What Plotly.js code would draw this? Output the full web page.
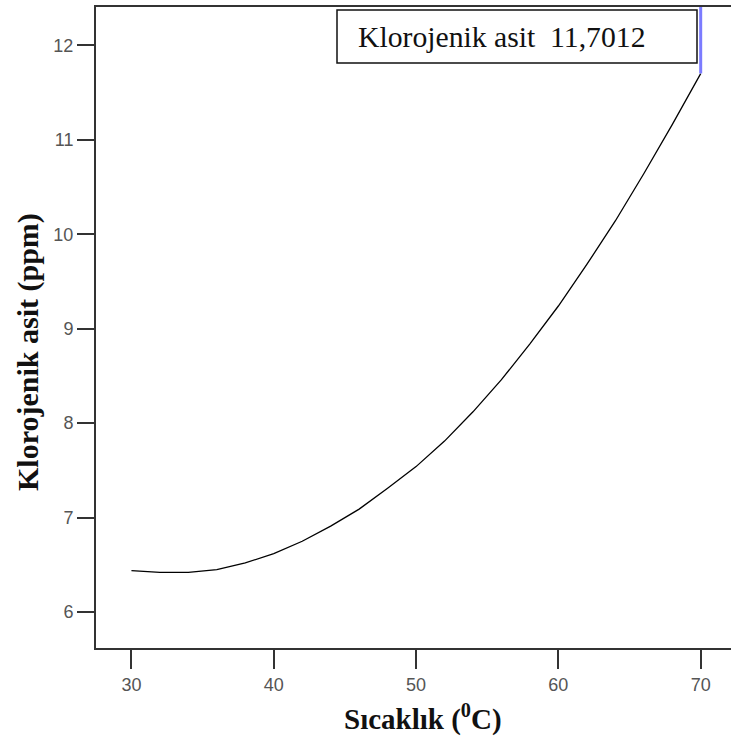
<!DOCTYPE html>
<html>
<head>
<meta charset="utf-8">
<script src="https://cdn.plot.ly/plotly-3.0.1.min.js"></script>
<style>html,body{margin:0;padding:0;background:#fff;}#chart{width:731px;height:737px;}</style>
</head>
<body>
<div id="chart"></div>
<script>
// Temperature (°C) and chlorogenic acid (ppm)
const temperature = [30, 32, 34, 36, 38, 40, 42, 44, 46, 48, 50, 52, 54, 56, 58, 60, 62, 64, 66, 68, 70];
const chlorogenic = [6.44, 6.42, 6.42, 6.45, 6.52, 6.62, 6.75, 6.91, 7.09, 7.31, 7.54, 7.81, 8.12, 8.46, 8.84, 9.24, 9.68, 10.14, 10.64, 11.16, 11.70];
const optimumT = 70;
const optimumValue = 11.7012;
const xTicks = [30, 40, 50, 60, 70];
const yTicks = [6, 7, 8, 9, 10, 11, 12];
const xRange = [27.51, 72.13];
const yRange = [5.62, 12.405];

const W = 731, H = 737, L = 96, T = 7, B = 89;
const PW = W - L, PH = H - T - B;
const px = v => (v - L) / PW;       // pixel -> paper x
const py = v => 1 - (v - T) / PH;   // pixel -> paper y

const curve = {
  x: temperature, y: chlorogenic, type: 'scatter', mode: 'lines',
  line: {color: '#000', width: 1.3}, hoverinfo: 'skip', showlegend: false
};
const marker = {
  x: [optimumT, optimumT], y: [optimumValue, yRange[1]], type: 'scatter', mode: 'lines',
  line: {color: '#7b7bff', width: 3}, hoverinfo: 'skip', showlegend: false
};

const axisCommon = {
  showgrid: false, zeroline: false, showline: true, linecolor: '#333', linewidth: 2,
  ticks: 'outside', tickcolor: '#333', tickwidth: 2,
  tickfont: {family: 'Liberation Sans, Arial, sans-serif', size: 18, color: '#555'}
};

const serif = 'Liberation Serif, Times New Roman, serif';

const layout = {
  width: W, height: H,
  margin: {l: L, r: 0, t: T, b: B},
  paper_bgcolor: '#fff', plot_bgcolor: '#fff',
  xaxis: Object.assign({}, axisCommon, {
    range: xRange, tickvals: xTicks, ticklen: 19, mirror: true
  }),
  yaxis: Object.assign({}, axisCommon, {
    range: yRange, tickvals: yTicks, ticklen: 17
  }),
  shapes: [
    {
      type: 'rect', xref: 'paper', yref: 'paper',
      x0: px(337), x1: px(697), y0: py(63), y1: py(10),
      line: {color: '#111', width: 1.5}, fillcolor: '#fff', layer: 'above'
    }
  ],
  annotations: [
    {
      xref: 'paper', yref: 'paper', x: px(356), y: py(37),
      xanchor: 'left', yanchor: 'middle', showarrow: false, align: 'left',
      text: 'Klorojenik asit  11,7012',
      font: {family: serif, size: 29.7, color: '#111'}
    },
    {
      xref: 'paper', yref: 'paper', x: px(423), y: py(717),
      xanchor: 'center', yanchor: 'middle', showarrow: false,
      text: '<b>Sıcaklık (<sup>0</sup>C)</b>',
      font: {family: serif, size: 29, color: '#111'}
    },
    {
      xref: 'paper', yref: 'paper', x: px(28), y: py(352),
      xanchor: 'center', yanchor: 'middle', showarrow: false, textangle: -90,
      text: '<b>Klorojenik asit (ppm)</b>',
      font: {family: serif, size: 30, color: '#111'}
    }
  ]
};

Plotly.newPlot('chart', [curve, marker], layout, {displayModeBar: false, staticPlot: true});
</script>
</body>
</html>
